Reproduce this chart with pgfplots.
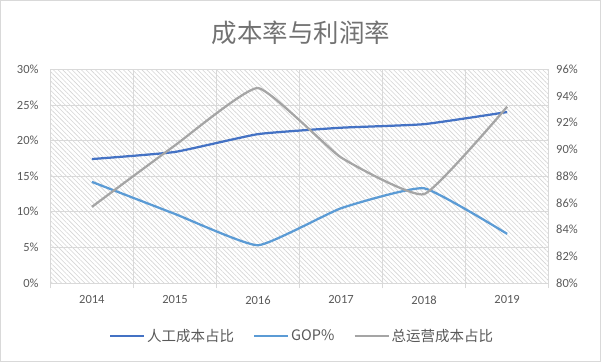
\documentclass[border=0pt]{standalone}
\usepackage{fontspec}
\setmainfont{Carlito}
\newfontfamily\cjk{Noto Sans CJK SC}
\usepackage{pgfplots}
\pgfplotsset{compat=1.18}
\usetikzlibrary{patterns.meta}
\definecolor{c1}{HTML}{4472C4}
\definecolor{c2}{HTML}{5B9BD5}
\definecolor{c3}{HTML}{A5A5A5}
\definecolor{txt}{HTML}{595959}
\definecolor{grd}{HTML}{D9D9D9}
\definecolor{hatch}{HTML}{D4D4D4}
\begin{document}
\begin{tikzpicture}[x=1pt,y=1pt]
\draw[grd, line width=0.8pt] (0,0) rectangle (601,361);
\node[text=txt!85, font=\cjk\fontsize{25.5}{28}\selectfont] at (301,329) {成本率与利润率};
\begin{axis}[at={(50pt,78pt)}, anchor=south west, scale only axis,
  width=499pt, height=214pt,
  xmin=-0.5, xmax=5.5, ymin=0, ymax=30,
  axis line style={draw=none},
  xtick={0,...,5}, xticklabels={2014,2015,2016,2017,2018,2019},
  xtick pos=bottom, ytick pos=left,
  major x tick style={draw=none},
  minor xtick={-0.5,0.5,...,5.5}, xminorgrids,
  minor tick length=5pt, tick align=outside,
  minor x tick style={grd, line width=0.8pt},
  ytick={0,5,...,30}, ymajorgrids,
  ytick style={draw=none},
  major grid style={grd, line width=0.8pt},
  minor grid style={grd, line width=0.8pt},
  yticklabel={\pgfmathprintnumber{\tick}\%},
  /pgf/number format/assume math mode=true,
  ticklabel style={text=txt, font=\fontsize{12.5}{14}\selectfont},
  xticklabel style={yshift=-5pt},
  yticklabel style={xshift=-4pt},
  axis background/.style={pattern={Lines[angle=-45,distance=3.3pt,line width=0.6pt]}, pattern color=hatch},
  clip=false,
]
\addplot[c1, line width=2.25pt, smooth, tension=0.25] coordinates {(0,17.4) (1,18.4) (2,20.9) (3,21.8) (4,22.3) (5,24.0)};
\addplot[c2, line width=2.25pt, smooth, tension=0.25] coordinates {(0,14.2) (1,9.7) (2,5.3) (3,10.5) (4,13.3) (5,6.9)};
\end{axis}
\begin{axis}[at={(50pt,78pt)}, anchor=south west, scale only axis,
  width=499pt, height=214pt,
  xmin=-0.5, xmax=5.5, ymin=80, ymax=96,
  axis line style={draw=none},
  xtick=\empty,
  ytick pos=right, yticklabel pos=right,
  ytick={80,82,...,96}, ytick style={draw=none},
  yticklabel={\pgfmathprintnumber{\tick}\%},
  /pgf/number format/assume math mode=true,
  ticklabel style={text=txt, font=\fontsize{12.5}{14}\selectfont},
  yticklabel style={xshift=4pt},
  legend style={at={(0.505,-0.248)}, anchor=center, draw=none, fill=none,
    legend columns=3, font=\cjk\fontsize{14.5}{16}\selectfont, text=txt,
    /tikz/every even column/.append style={column sep=17pt},
    /tikz/every odd column/.append style={inner xsep=1pt}},
  legend image code/.code={\draw[#1] (0pt,0pt) -- (34pt,0pt);},
]
\addlegendimage{c1, line width=2.25pt}\addlegendentry{人工成本占比}
\addlegendimage{c2, line width=2.25pt}\addlegendentry{GOP\%}
\addplot[c3, line width=2.25pt, smooth, tension=0.25] coordinates {(0,85.7) (1,90.3) (2,94.6) (3,89.4) (4,86.65) (5,93.2)};
\addlegendentry{总运营成本占比}
\end{axis}
\end{tikzpicture}
\end{document}
